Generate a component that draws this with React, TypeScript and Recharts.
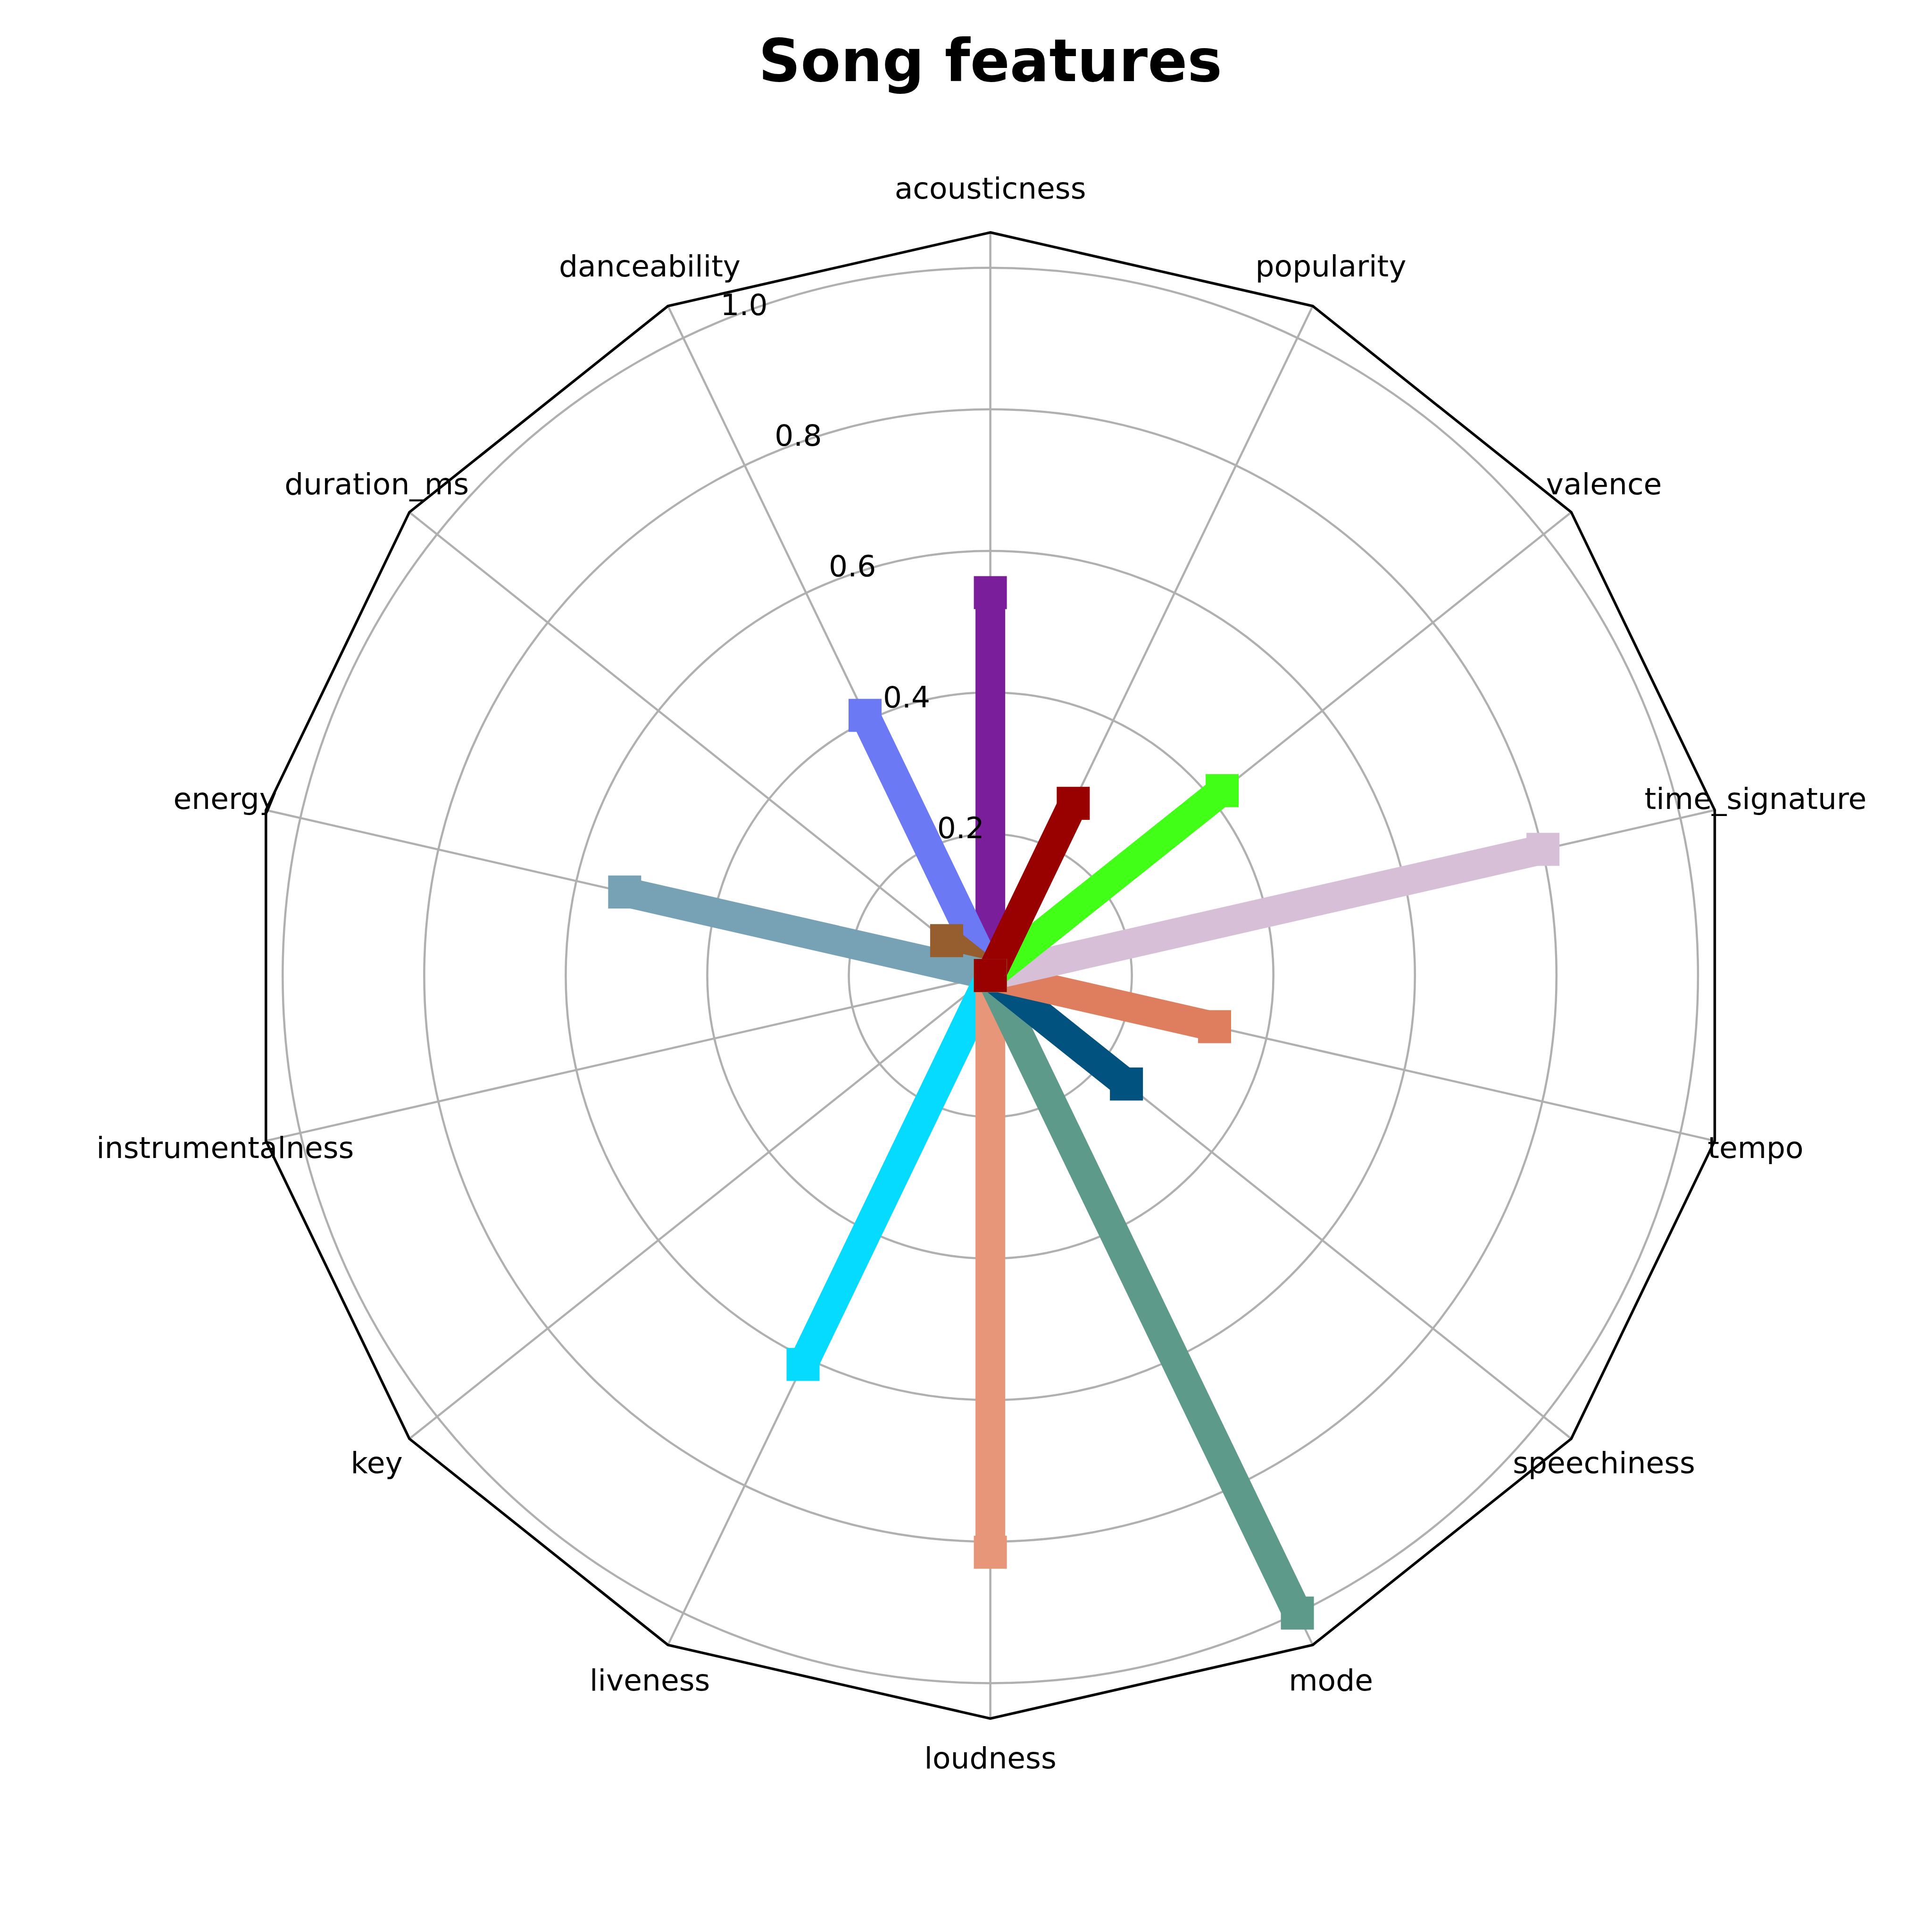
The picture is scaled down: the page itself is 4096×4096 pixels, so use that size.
import { PolarAngleAxis, PolarGrid, PolarRadiusAxis, Radar, RadarChart } from "recharts";

// features in drawing order (counter-clockwise from the top in the picture)
const features = [
  "acousticness",
  "danceability",
  "duration_ms",
  "energy",
  "instrumentalness",
  "key",
  "liveness",
  "loudness",
  "mode",
  "speechiness",
  "tempo",
  "time_signature",
  "valence",
  "popularity",
];
const values = [0.541, 0.408, 0.079, 0.53, 0.0, 0.0, 0.61, 0.815, 1.0, 0.246, 0.325, 0.801, 0.419, 0.27];
const colors = [
  "#7b1e9b",
  "#6b79f5",
  "#965e2e",
  "#77a1b5",
  "#2ca02c",
  "#ff7f0e",
  "#05dbff",
  "#e8967a",
  "#5e9a89",
  "#01527f",
  "#df7e5e",
  "#d8bfd8",
  "#42ff17",
  "#990000",
];
const radiusTicks = [0.2, 0.4, 0.6, 0.8, 1.0];
const rMax = 1.05;

// recharts walks the angle axis clockwise, so feed the rows in reverse around the circle
const rowOrder = features.map((_, k) => (features.length - k) % features.length);

// one row per feature, one key per series (only its own feature is non-zero)
const rows = rowOrder.map((j) => {
  const row: any = { name: features[j] };
  values.forEach((v, i) => {
    row[`s${i}`] = i === j ? v : 0;
  });
  return row;
});

const W = 4096;
const CX = 2099.6;
const CY = 2068.1;
const OUTER = 1575.3;
const LABEL_R = 1664;
const LINE_W = 63;
const MARK = 70;
const FONT = "DejaVu Sans";

const AngleTick = (props: any) => {
  const { x, y, payload } = props;
  return (
    <text x={x} y={y + 17} textAnchor="middle" fontSize={63} fontFamily={FONT} fill="#000">
      {payload.value}
    </text>
  );
};

const RadiusTick = (props: any) => {
  const { x, y, payload } = props;
  return (
    <text x={x + 2} y={y - 14} textAnchor="start" fontSize={63} fontFamily={FONT} fill="#000">
      {Number(payload.value).toFixed(1)}
    </text>
  );
};

const makeDot = (i: number) => {
  const pos = rowOrder.indexOf(i);
  const centre = (pos + 1) % features.length;
  return (props: any) => {
    const { cx, cy, index } = props;
    if (index !== pos && index !== centre) {
      return <g key={`d-${i}-${index}`} />;
    }
    return (
      <rect
        key={`d-${i}-${index}`}
        x={cx - MARK / 2}
        y={cy - MARK / 2}
        width={MARK}
        height={MARK}
        fill={colors[i]}
        stroke="none"
      />
    );
  };
};

export default function App() {
  const gridRadii = radiusTicks.map((t) => (t / rMax) * OUTER);
  return (
    <div style={{ position: "absolute", left: 0, top: 0, width: W, height: W, background: "#fff" }}>
      <svg width={W} height={300} style={{ position: "absolute", left: 0, top: 0 }}>
        <text x={CX} y={172} textAnchor="middle" fontSize={124} fontWeight="bold" fontFamily={FONT} fill="#000">
          Song features
        </text>
      </svg>
      <div style={{ position: "absolute", left: 0, top: 0 }}>
        <RadarChart
          width={W}
          height={W}
          data={rows}
          cx={CX}
          cy={CY}
          outerRadius={OUTER}
          margin={{ top: 0, right: 0, bottom: 0, left: 0 }}
        >
          <PolarGrid gridType="circle" polarRadius={gridRadii} stroke="#b0b0b0" strokeWidth={4.5} />
          <PolarAngleAxis
            dataKey="name"
            axisLineType="polygon"
            axisLine={{ stroke: "#000", strokeWidth: 5.5 }}
            tickLine={false}
            tickSize={LABEL_R - OUTER}
            tick={<AngleTick />}
          />
          <PolarRadiusAxis
            type="number"
            angle={112.5}
            domain={[0, rMax]}
            ticks={radiusTicks}
            allowDataOverflow
            axisLine={false}
            tickLine={false}
            tick={<RadiusTick />}
          />
          {features.map((f, i) => (
            <Radar
              key={f}
              name={f}
              dataKey={`s${i}`}
              stroke={colors[i]}
              strokeWidth={LINE_W}
              strokeLinejoin="bevel"
              fill="none"
              dot={makeDot(i)}
              isAnimationActive={false}
            />
          ))}
        </RadarChart>
      </div>
    </div>
  );
}
